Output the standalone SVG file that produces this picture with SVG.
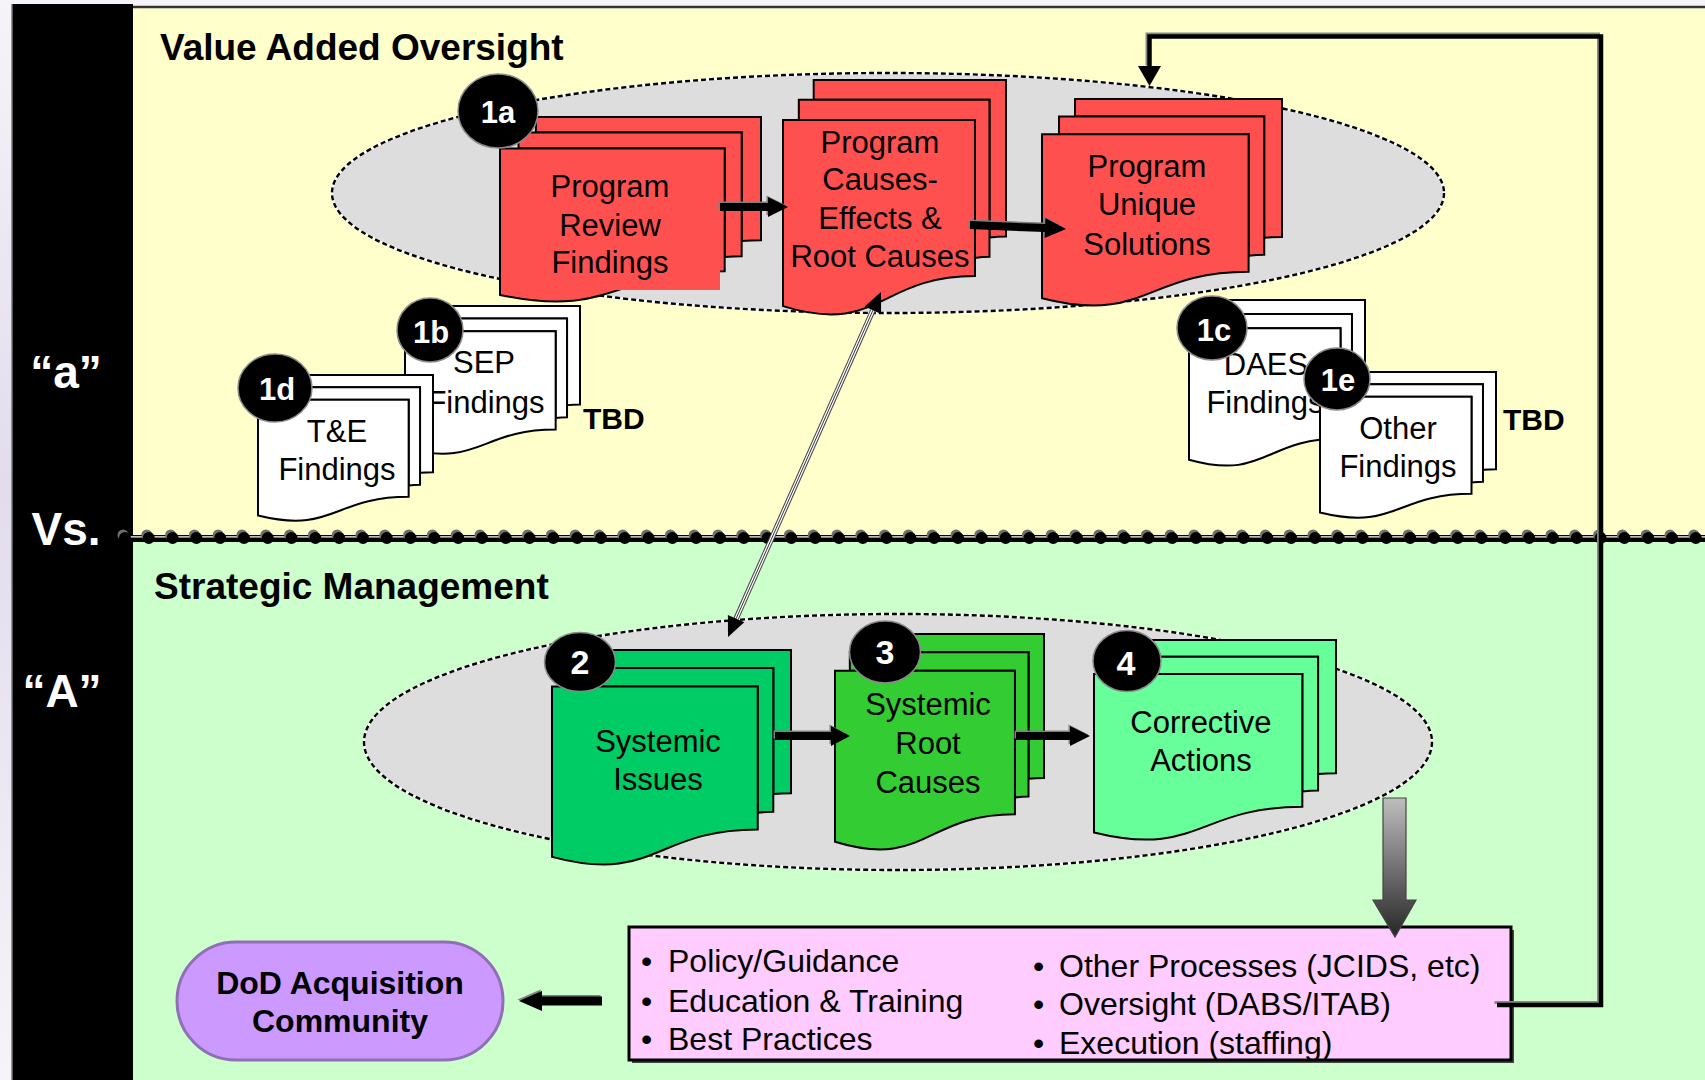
<svg xmlns="http://www.w3.org/2000/svg" width="1705" height="1080" viewBox="0 0 1705 1080">
<style>
text { font-family: "Liberation Sans", Arial, Helvetica, sans-serif; }
.pg { stroke:#000; stroke-width:2; vector-effect:non-scaling-stroke; stroke-linejoin:miter; }
.lbl { font-size:31px; text-anchor:middle; fill:#000; }
.num { font-size:31px; font-weight:bold; text-anchor:middle; fill:#fff; }
.num2 { font-size:34px; font-weight:bold; text-anchor:middle; fill:#fff; }
.badge { fill:#000; stroke:#8a8a8a; stroke-width:1.5; }
.title { font-size:37px; font-weight:bold; fill:#000; }
.side { font-size:46px; font-weight:bold; fill:#fff; text-anchor:middle; }
.tbd { font-size:30px; font-weight:bold; fill:#000; }
.box { font-size:32px; fill:#000; }
.pill { font-size:32px; font-weight:bold; fill:#000; text-anchor:middle; }
.cloud { fill:#DDDDDD; stroke:#fff; stroke-width:2.4; }
.cloudDash { fill:none; stroke:#000; stroke-width:2.4; stroke-dasharray:5 3; }
.red { fill:#FF5050; }
.white { fill:#FFFFFF; }
.arrSh { fill:#808080; }
.arr { fill:#000; }
</style>
<defs>
  <linearGradient id="bgGrad" x1="0" y1="0" x2="0" y2="1">
    <stop offset="0" stop-color="#F6F4F9"/>
    <stop offset="0.45" stop-color="#E2DCEC"/>
    <stop offset="1" stop-color="#F6F4F9"/>
  </linearGradient>
  <linearGradient id="downGrad" x1="0" y1="0" x2="0" y2="1">
    <stop offset="0" stop-color="#BEBEBE"/>
    <stop offset="1" stop-color="#262626"/>
  </linearGradient>
  <symbol id="mdoc" viewBox="0 0 21600 21600" preserveAspectRatio="none" overflow="visible">
    <path class="pg" d="M2972,1815 V0 H21600 V14392 C20800,14392 20000,14467 20000,14467 V1815 Z"/>
    <path class="pg" d="M1532,3675 V1815 H20000 V16252 C19298,16252 18595,16352 18595,16352 V3675 Z"/>
    <path class="pg" d="M0,3675 H18595 V18022 C9298,18022 9298,23542 0,20782 Z"/>
  </symbol>
  <polygon id="pA" points="720,203 768,203 768,197 788,207 768,217 768,211 720,211"/>
  <polygon id="pB" points="970.2,221 1045.2,224.1 1045.4,218.1 1066,229 1044.6,238.1 1044.8,232.1 969.8,229"/>
  <polygon id="pC" points="775,732 831,732 831,726 850,736 831,746 831,740 775,740"/>
  <polygon id="pD" points="1016,732 1070,732 1070,726 1090,736 1070,746 1070,740 1016,740"/>
  <polygon id="pE" points="602,996.5 542,996.5 542,991 519,1001 542,1011 542,1005.5 602,1005.5"/>
  <path id="fbPath" d="M1497,1005 H1601 V36.5 H1149.5 V68"/>
</defs>

<g id="background">
  <rect x="0" y="0" width="1705" height="1080" fill="url(#bgGrad)"/>
  <rect x="12" y="4" width="121" height="1076" fill="#000"/>
  <line x1="12" y1="4" x2="12" y2="1080" stroke="#777" stroke-width="1.5"/>
  <rect x="133" y="7" width="1572" height="530" fill="#FFFFCC"/>
  <rect x="133" y="537" width="1572" height="543" fill="#CCFFCC"/>
  <line x1="133" y1="7" x2="1705" y2="7" stroke="#333" stroke-width="2.5"/>
</g>

<g id="side-labels">
  <text class="side" x="66" y="388">“a”</text>
  <text class="side" x="66" y="545">Vs.</text>
  <text class="side" x="62" y="707">“A”</text>
</g>

<g id="section-titles">
  <text class="title" x="160" y="60">Value Added Oversight</text>
  <text class="title" x="154" y="599">Strategic Management</text>
</g>

<g id="divider">
  <line x1="120" y1="538.5" x2="1705" y2="538.5" stroke="#000" stroke-width="7"/>
  <line x1="120" y1="536.8" x2="1705" y2="536.8" stroke="#fff" stroke-width="1.2"/>
  <line x1="123" y1="535" x2="1705" y2="535" stroke="#6e6e6e" stroke-width="11" stroke-linecap="round" stroke-dasharray="0 23.8"/>
  <line x1="125" y1="538" x2="1705" y2="538" stroke="#000" stroke-width="12" stroke-linecap="round" stroke-dasharray="0 23.8"/>
</g>

<g id="oversight-group">
  <ellipse class="cloud" cx="888" cy="193" rx="556" ry="120"/>
  <ellipse class="cloudDash" cx="888" cy="193" rx="556" ry="120"/>
</g>
<g id="strategic-group">
  <ellipse class="cloud" cx="898" cy="742" rx="534" ry="128"/>
  <ellipse class="cloudDash" cx="898" cy="742" rx="534" ry="128"/>
</g>

<g id="node-1a">
  <use href="#mdoc" x="500" y="117" width="261" height="185" class="red"/>
  <rect x="501.2" y="160" width="218.8" height="130" fill="#FF5050"/>
  <text class="lbl" x="610" y="197">Program</text>
  <text class="lbl" x="610" y="236">Review</text>
  <text class="lbl" x="610" y="273">Findings</text>
  <ellipse class="badge" cx="498" cy="111" rx="40" ry="37"/>
  <text class="num" x="498" y="123">1a</text>
</g>

<g id="node-causes">
  <use href="#mdoc" x="783" y="80" width="223" height="235" class="red"/>
  <text class="lbl" x="880" y="153">Program</text>
  <text class="lbl" x="880" y="190">Causes-</text>
  <text class="lbl" x="880" y="229">Effects &amp;</text>
  <text class="lbl" x="880" y="267">Root Causes</text>
</g>

<g id="node-solutions">
  <use href="#mdoc" x="1042" y="99" width="240" height="207" class="red"/>
  <text class="lbl" x="1147" y="177">Program</text>
  <text class="lbl" x="1147" y="215">Unique</text>
  <text class="lbl" x="1147" y="255">Solutions</text>
</g>

<g id="node-1b">
  <use href="#mdoc" x="405" y="306" width="175" height="148" class="white"/>
  <text class="lbl" x="484" y="373">SEP</text>
  <text class="lbl" x="486" y="413">Findings</text>
  <ellipse class="badge" cx="430" cy="330" rx="33" ry="32"/>
  <text class="num" x="431" y="343">1b</text>
</g>

<g id="node-1d">
  <use href="#mdoc" x="258" y="375" width="175" height="146" class="white"/>
  <text class="lbl" x="337" y="442">T&amp;E</text>
  <text class="lbl" x="337" y="480">Findings</text>
  <ellipse class="badge" cx="275" cy="388" rx="37" ry="34"/>
  <text class="num" x="277" y="400">1d</text>
</g>

<g id="tbd-left">
  <text class="tbd" x="583" y="429">TBD</text>
</g>

<g id="node-1c">
  <use href="#mdoc" x="1189" y="300" width="176" height="166" class="white"/>
  <text class="lbl" x="1266" y="375">DAES</text>
  <text class="lbl" x="1265" y="413">Findings</text>
  <ellipse class="badge" cx="1212" cy="328" rx="35" ry="32"/>
  <text class="num" x="1214" y="341">1c</text>
</g>

<g id="node-1e">
  <use href="#mdoc" x="1320" y="372" width="176" height="146" class="white"/>
  <text class="lbl" x="1398" y="439">Other</text>
  <text class="lbl" x="1398" y="477">Findings</text>
  <ellipse class="badge" cx="1337" cy="379" rx="33" ry="31"/>
  <text class="num" x="1338" y="391">1e</text>
</g>

<g id="tbd-right">
  <text class="tbd" x="1503" y="430">TBD</text>
</g>

<g id="node-2">
  <use href="#mdoc" x="552" y="650" width="239" height="215" fill="#00CC66"/>
  <text class="lbl" x="658" y="752">Systemic</text>
  <text class="lbl" x="658" y="790">Issues</text>
  <ellipse class="badge" cx="580" cy="662" rx="35.5" ry="29.5"/>
  <text class="num2" x="580" y="674">2</text>
</g>

<g id="node-3">
  <use href="#mdoc" x="835" y="634" width="209" height="216" fill="#33CC33"/>
  <text class="lbl" x="928" y="715">Systemic</text>
  <text class="lbl" x="928" y="754">Root</text>
  <text class="lbl" x="928" y="793">Causes</text>
  <ellipse class="badge" cx="885" cy="652" rx="35.5" ry="31"/>
  <text class="num2" x="885" y="664">3</text>
</g>

<g id="node-4">
  <use href="#mdoc" x="1094" y="640" width="242" height="200" fill="#66FF99"/>
  <text class="lbl" x="1201" y="733">Corrective</text>
  <text class="lbl" x="1201" y="771">Actions</text>
  <ellipse class="badge" cx="1127" cy="661" rx="34" ry="30.5"/>
  <text class="num2" x="1126" y="675">4</text>
</g>

<g id="node-levers">
  <rect x="632" y="930" width="882" height="133" fill="#444"/>
  <rect x="629" y="927" width="882" height="133" fill="#FFCCFF"/>
  <text class="box" y="972"><tspan x="641">•</tspan><tspan x="668">Policy/Guidance</tspan></text>
  <text class="box" y="1012"><tspan x="641">•</tspan><tspan x="668">Education &amp; Training</tspan></text>
  <text class="box" y="1050"><tspan x="641">•</tspan><tspan x="668">Best Practices</tspan></text>
  <text class="box" y="977"><tspan x="1033">•</tspan><tspan x="1059">Other Processes (JCIDS, etc)</tspan></text>
  <text class="box" y="1015"><tspan x="1033">•</tspan><tspan x="1059">Oversight (DABS/ITAB)</tspan></text>
  <text class="box" y="1054"><tspan x="1033">•</tspan><tspan x="1059">Execution (staffing)</tspan></text>
  <rect x="629" y="927" width="882" height="133" fill="none" stroke="#000" stroke-width="3"/>
</g>

<g id="node-dod">
  <rect x="177" y="942" width="326" height="118" rx="59" ry="59" fill="#CC99FF" stroke="#8F6FB5" stroke-width="3"/>
  <text class="pill" x="340" y="994">DoD Acquisition</text>
  <text class="pill" x="340" y="1032">Community</text>
</g>

<g id="connectors">
  <use href="#pA" class="arrSh" transform="translate(-1.5,-1.5)"/>
  <use href="#pA" class="arr"/>
  <use href="#pB" class="arrSh" transform="translate(-1.5,-1.5)"/>
  <use href="#pB" class="arr"/>
  <use href="#pC" class="arrSh" transform="translate(-1.5,-1.5)"/>
  <use href="#pC" class="arr"/>
  <use href="#pD" class="arrSh" transform="translate(-1.5,-1.5)"/>
  <use href="#pD" class="arr"/>
  <use href="#pE" class="arrSh" transform="translate(-1.5,-1.5)"/>
  <use href="#pE" class="arr"/>

  <g id="link-causes-issues">
    <line x1="736.1" y1="618.7" x2="872.9" y2="310.3" stroke="#444" stroke-width="5.5"/>
    <line x1="736.1" y1="618.7" x2="872.9" y2="310.3" stroke="#fff" stroke-width="3.4"/>
    <line x1="736.1" y1="618.7" x2="872.9" y2="310.3" stroke="#333" stroke-width="1"/>
    <polygon points="881,292 881.1,314 864.7,306.6" fill="#000"/>
    <polygon points="728,637 744.3,622.3 727.9,615" fill="#000"/>
  </g>

  <polygon points="1383,798 1406,798 1406,900 1416,900 1395,937 1373,900 1383,900" fill="url(#downGrad)" stroke="#444" stroke-width="1.2"/>

  <g id="feedback">
    <use href="#fbPath" fill="none" stroke="#888" stroke-width="3" transform="translate(-2.5,-2.5)"/>
    <use href="#fbPath" fill="none" stroke="#000" stroke-width="4.5"/>
    <polygon points="1138,66 1161,66 1149.5,86" fill="#000"/>
  </g>
</g>
</svg>
